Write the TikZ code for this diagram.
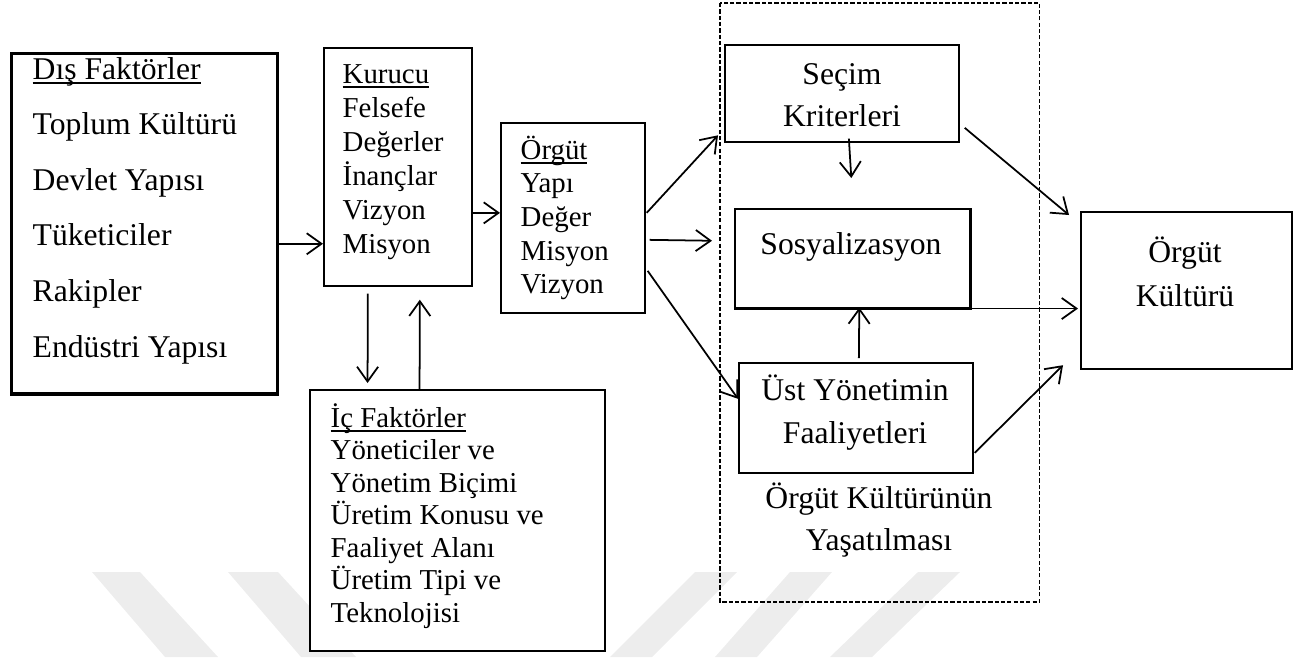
\documentclass[tikz,border=0pt]{standalone}
\usepackage{fontspec}
\setmainfont{Liberation Serif}
\usetikzlibrary{arrows.meta,calc}

% underline drawn at a fixed distance below the baseline, through descenders
\newcommand\wordul[1]{\setbox0\hbox{#1}\rlap{\rule[-1.3pt]{\wd0}{0.55pt}}#1}

\begin{document}
\begin{tikzpicture}[x=0.01cm,y=-0.01cm,
  box/.style={draw,fill=white,inner sep=0pt,line width=0.45pt,anchor=north west},
  big/.style={font=\fontsize{9}{11}\selectfont},
  small/.style={font=\fontsize{8.2}{10}\selectfont},
  ln/.style={inner sep=0pt,anchor=base west},
  cl/.style={inner sep=0pt,anchor=base},
  arr/.style={-{Straight Barb[length=4.2pt,width=6pt]},line width=0.5pt},
  wm/.style={fill=black!7,draw=none}]

% page frame
\useasboundingbox (0,0) rectangle (1300,657);

% faint background bands
\fill[wm] (92,572) -- (140,572) -- (218,657) -- (165,657) -- cycle;
\fill[wm] (228,572) -- (278,572) -- (356,657) -- (301,657) -- cycle;
\fill[wm] (695,572) -- (737,572) -- (652,657) -- (610,657) -- cycle;
\fill[wm] (790,572) -- (832,572) -- (757,657) -- (715,657) -- cycle;
\fill[wm] (918,572) -- (960,572) -- (872,657) -- (830,657) -- cycle;

% boxes
\node[box,draw=none,fill=none,minimum width=3.18cm,minimum height=5.97cm] (grp) at (720,3) {};
\draw[dash pattern=on 1.2pt off 0.6pt,line width=0.35pt] (grp.north west) rectangle (grp.south east);
\node[box,line width=0.95pt,minimum width=2.66cm,minimum height=3.40cm] (dis) at (10,52) {};
\node[box,minimum width=1.48cm,minimum height=2.38cm] (kur) at (323,47) {};
\node[box,minimum width=1.44cm,minimum height=1.90cm] (org) at (500,122) {};
\node[box,line width=0.55pt,minimum width=2.95cm,minimum height=2.61cm] (ic) at (309,389) {};
\node[box,minimum width=2.34cm,minimum height=0.97cm] (sec) at (724,44) {};
\node[box,line width=0.7pt,minimum width=2.35cm,minimum height=0.99cm] (sos) at (734,208) {};
\node[box,minimum width=2.34cm,minimum height=1.10cm] (ust) at (738,362) {};
\node[box,line width=0.6pt,minimum width=2.11cm,minimum height=1.57cm] (ok) at (1080,211) {};

% external factors
\foreach \t [count=\i from 0] in {\wordul{Dış Faktörler},Toplum Kültürü,Devlet Yapısı,Tüketiciler,Rakipler,Endüstri Yapısı}
  \node[ln,big] (dis\i) at (32,{79+55.6*\i}) {\t};

% founder
\foreach \t [count=\i from 0] in {\wordul{Kurucu},Felsefe,Değerler,İnançlar,Vizyon,Misyon}
  \node[ln,small] (kur\i) at (342,{83+34*\i}) {\t};

% organisation
\foreach \t [count=\i from 0] in {\wordul{Örgüt},Yapı,Değer,Misyon,Vizyon}
  \node[ln,small] (org\i) at (520,{159+33.7*\i}) {\t};

% internal factors
\foreach \t [count=\i from 0] in {\wordul{İç Faktörler},Yöneticiler ve,Yönetim Biçimi,Üretim Konusu ve,Faaliyet Alanı,Üretim Tipi ve,Teknolojisi}
  \node[ln,small] (ic\i) at (330,{427+32.5*\i}) {\t};

% culture maintenance
\node[cl,big] (sec0) at (842,84) {Seçim};
\node[cl,big] (sec1) at (842,126) {Kriterleri};
\node[cl,big] (sos0) at (851,254) {Sosyalizasyon};
\node[cl,big] (ust0) at (855,400) {Üst Yönetimin};
\node[cl,big] (ust1) at (855,443) {Faaliyetleri};
\node[cl,big] (grp0) at (879,508) {Örgüt Kültürünün};
\node[cl,big] (grp1) at (879,550) {Yaşatılması};

% result
\node[cl,big] (ok0) at (1185,262) {Örgüt};
\node[cl,big] (ok1) at (1185,306) {Kültürü};

% connectors
\draw[arr] ($(dis.east)+(0,20)$) coordinate (a1) -- (a1 -| kur.west);
\draw[arr] ($(kur.east)+(0,46)$) coordinate (a2) -- (a2 -| org.west);
\draw[arr] ($(kur.south)+(-30,7)$) -- ($(ic.north)+(-90,-6)$);
\draw[arr] ($(ic.north)+(-38,0)$) -- ($(kur.south)+(22,13)$);
\draw[arr] ($(org.east)+(1,-5)$) -- ($(sec.west)+(-6,42)$);
\draw[arr] ($(org.east)+(4,22)$) -- ($(sos.west)+(-22,-18)$);
\draw[arr] ($(org.east)+(2,53)$) -- ($(ust.west)+(0,-19)$);
\draw[arr] ($(sec.south)+(7,-4)$) -- ($(sos.north)+(-1.5,-30)$);
\draw[arr] ($(ust.north)+(3,-4)$) -- ($(sos.south)+(6.5,-2)$);
\draw[arr] ($(sec.east)+(5,34.5)$) -- ($(ok.north west)+(-11,4)$);
\draw[arr] ($(sos.south east)+(-9,-1)$) coordinate (a3) -- ($(a3 -| ok.west)+(-2,0)$);
\draw[arr] ($(ust.east)+(1,35)$) -- ($(ok.south west)+(-17,-5)$);

\end{tikzpicture}
\end{document}
